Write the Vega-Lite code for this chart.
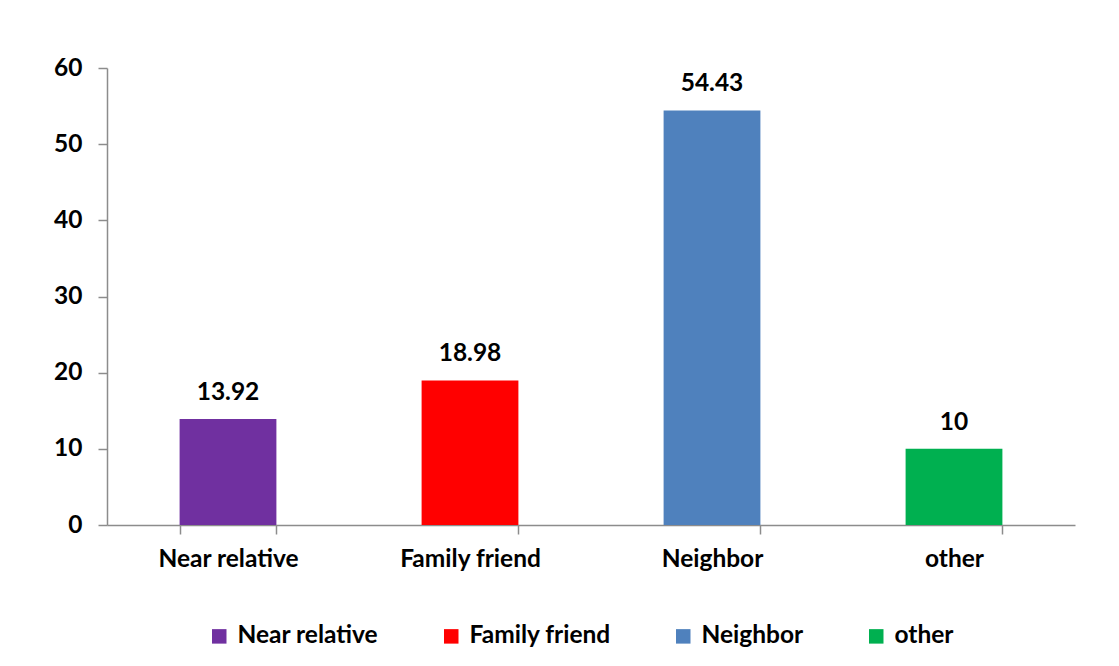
{
  "$schema": "https://vega.github.io/schema/vega-lite/v6.json",
  "width": 968,
  "height": 457,
  "autosize": {"type": "none"},
  "padding": {"left": 107, "top": 68, "right": 44, "bottom": 141},
  "background": "white",
  "config": {
    "view": {"stroke": null},
    "font": "Lato",
    "axis": {"labelFont": "Lato", "labelFontWeight": "bold", "labelColor": "black", "domainColor": "#8c8c8c", "tickColor": "#8c8c8c", "grid": false, "title": null}
  },
  "data": {
    "values": [
      {"category": "Near relative", "value": 13.92},
      {"category": "Family friend", "value": 18.98},
      {"category": "Neighbor", "value": 54.43},
      {"category": "other", "value": 10}
    ]
  },
  "encoding": {
    "x": {
      "field": "category", "type": "nominal", "sort": null,
      "scale": {"paddingInner": 0.6, "paddingOuter": 0.3},
      "axis": {"labelAngle": 0, "labelFontSize": 24.5, "labelPadding": 13, "tickSize": 9, "tickBand": "extent", "domainWidth": 1.5, "tickWidth": 1.5}
    },
    "y": {
      "field": "value", "type": "quantitative",
      "scale": {"domain": [0, 60]},
      "axis": {"values": [0, 10, 20, 30, 40, 50, 60], "labelFontSize": 24.5, "labelPadding": 16, "tickSize": 9, "domainWidth": 1.5, "tickWidth": 1.5}
    }
  },
  "layer": [
    {
      "mark": {"type": "bar"},
      "encoding": {
        "color": {
          "field": "category", "type": "nominal", "sort": null,
          "scale": {"domain": ["Near relative", "Family friend", "Neighbor", "other"], "range": ["#7030A0", "#FF0000", "#4F81BD", "#00B050"]},
          "legend": {
            "title": null, "orient": "none", "direction": "horizontal",
            "legendX": 100, "legendY": 556,
            "symbolType": "square", "symbolSize": 210, "symbolStrokeWidth": 0, "symbolOpacity": 1,
            "labelFont": "Lato", "labelFontWeight": "bold", "labelFontSize": 24.5, "labelColor": "black",
            "columnPadding": 60, "labelOffset": 6
          }
        }
      }
    },
    {
      "mark": {"type": "text", "baseline": "bottom", "dy": -14, "fontSize": 24.5, "fontWeight": "bold", "font": "Lato", "color": "black"},
      "encoding": {"text": {"field": "value", "type": "quantitative"}}
    }
  ]
}
